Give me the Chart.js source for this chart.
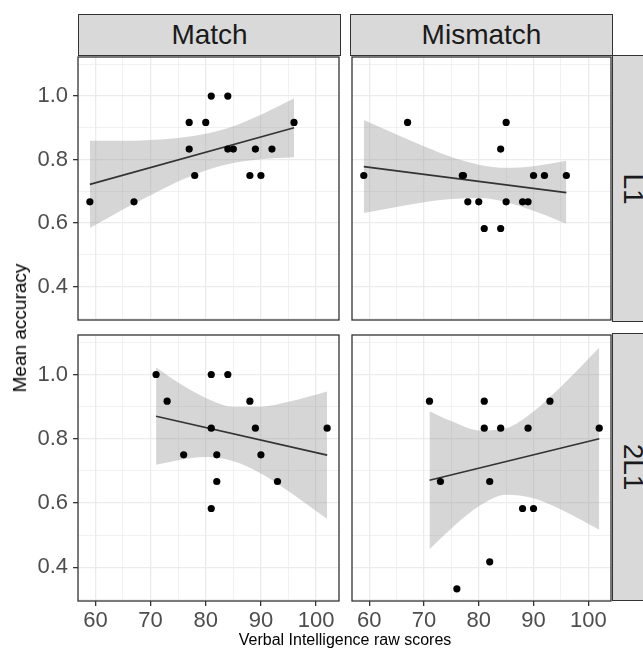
<!DOCTYPE html>
<html>
<head>
<meta charset="utf-8">
<script src="https://cdn.jsdelivr.net/npm/chart.js@4.4.0/dist/chart.umd.min.js"></script>
<style>
  body { margin: 0; width: 643px; height: 655px; overflow: hidden; background: #fff; position: relative;
         font-family: "Liberation Sans", Arial, sans-serif; }
  canvas { position: absolute; }
  .strip { position: absolute; background: #D9D9D9; border: 1.3px solid #333; box-sizing: border-box;
           display: flex; align-items: center; justify-content: center; color: #1A1A1A; font-size: 28px; }
  .strip span.rot { transform: rotate(90deg); white-space: nowrap; }
  .title { position: absolute; color: #000; white-space: nowrap; }
</style>
</head>
<body>
<canvas id="pTL" width="343" height="271" style="left:0;top:53px"></canvas>
<canvas id="pTR" width="267" height="271" style="left:348px;top:53px"></canvas>
<canvas id="pBL" width="343" height="324" style="left:0;top:331px"></canvas>
<canvas id="pBR" width="267" height="324" style="left:348px;top:331px"></canvas>

<div class="strip" style="left:78px;top:14px;width:263px;height:42px">Match</div>
<div class="strip" style="left:350px;top:14px;width:263px;height:42px">Mismatch</div>
<div class="strip" style="left:612px;top:55px;width:42px;height:267px"><span class="rot">L1</span></div>
<div class="strip" style="left:612px;top:333px;width:42px;height:268px"><span class="rot">2L1</span></div>

<div class="title" style="left:345px;top:631px;font-size:16px;transform:translateX(-50%)">Verbal Intelligence raw scores</div>
<div class="title" style="left:20px;top:328px;font-size:19px;transform:translate(-50%,-50%) rotate(-90deg)">Mean accuracy</div>

<script>
// ticks
const xTicks = [60, 70, 80, 90, 100];
const xGrid = [60, 65, 70, 75, 80, 85, 90, 95, 100];
const yTicks = [0.4, 0.6, 0.8, 1.0];
const yGrid = [0.3, 0.4, 0.5, 0.6, 0.7, 0.8, 0.9, 1.0, 1.1];

// Match / L1
const matchL1X = [59, 67, 77, 80, 81, 84, 77, 78, 84, 85, 89, 88, 90, 92, 96];
const matchL1Y = [0.667, 0.667, 0.917, 0.917, 1.0, 1.0, 0.833, 0.75, 0.833, 0.833, 0.833, 0.75, 0.75, 0.833, 0.917];
const matchL1FitX = [59, 96];
const matchL1FitY = [0.722, 0.900];
const matchL1BandX = [59, 65, 70, 75, 80, 85, 90, 96];
const matchL1BandHi = [0.859, 0.859, 0.862, 0.868, 0.881, 0.905, 0.941, 0.992];
const matchL1BandLo = [0.585, 0.643, 0.688, 0.731, 0.766, 0.789, 0.801, 0.807];

// Mismatch / L1
const mismatchL1X = [59, 67, 77, 77.2, 78, 80, 81, 84, 84, 85, 85, 88, 89, 90, 92, 96];
const mismatchL1Y = [0.75, 0.917, 0.75, 0.75, 0.667, 0.667, 0.583, 0.583, 0.833, 0.917, 0.667, 0.667, 0.667, 0.75, 0.75, 0.75];
const mismatchL1FitX = [59, 96];
const mismatchL1FitY = [0.778, 0.696];
const mismatchL1BandX = [59, 65, 70, 75, 80, 85, 90, 96];
const mismatchL1BandHi = [0.925, 0.879, 0.842, 0.808, 0.784, 0.774, 0.779, 0.796];
const mismatchL1BandLo = [0.632, 0.651, 0.666, 0.676, 0.679, 0.666, 0.639, 0.598];

// Match / 2L1
const match2L1X = [71, 73, 81, 84, 88, 81, 89, 102, 76, 82, 90, 82, 93, 81];
const match2L1Y = [1.0, 0.917, 1.0, 1.0, 0.917, 0.833, 0.833, 0.833, 0.75, 0.75, 0.75, 0.667, 0.667, 0.583];
const match2L1FitX = [71, 102];
const match2L1FitY = [0.870, 0.749];
const match2L1BandX = [71, 75, 80, 85, 90, 95, 102];
const match2L1BandHi = [1.022, 0.975, 0.927, 0.900, 0.900, 0.915, 0.947];
const match2L1BandLo = [0.719, 0.733, 0.743, 0.730, 0.692, 0.637, 0.551];

// Mismatch / 2L1
const mismatch2L1X = [71, 81, 93, 81, 84, 89, 102, 73, 82, 88, 90, 82, 76];
const mismatch2L1Y = [0.917, 0.917, 0.917, 0.833, 0.833, 0.833, 0.833, 0.667, 0.667, 0.583, 0.583, 0.417, 0.333];
const mismatch2L1FitX = [71, 102];
const mismatch2L1FitY = [0.671, 0.800];
const mismatch2L1BandX = [71, 75, 80, 85, 90, 95, 102];
const mismatch2L1BandHi = [0.886, 0.855, 0.826, 0.833, 0.885, 0.962, 1.084];
const mismatch2L1BandLo = [0.456, 0.521, 0.590, 0.626, 0.615, 0.580, 0.517];

const pairs = (xs, ys) => xs.map((x, i) => ({ x: x, y: ys[i] }));
const isIn = (arr, v) => arr.some(t => Math.abs(t - v) < 1e-9);

// marco del panel
const frame = {
    id: 'frame',
    afterDraw(chart) {
        const a = chart.chartArea;
        const ctx = chart.ctx;
        ctx.save();
        ctx.strokeStyle = '#333';
        ctx.lineWidth = 1.3;
        ctx.strokeRect(a.left, a.top, a.right - a.left, a.bottom - a.top);
        ctx.restore();
    }
};

// sin relleno extra por las etiquetas
function sinPadding(s) {
    s.paddingTop = 0;
    s.paddingBottom = 0;
    s.paddingLeft = 0;
    s.paddingRight = 0;
}

function crearPanel(id, px, py, fx, fy, bx, bhi, blo, showX, showY) {
    new Chart(document.getElementById(id), {
        type: 'scatter',
        data: {
            datasets: [
                { data: pairs(px, py), backgroundColor: '#000', borderWidth: 0, pointRadius: 3.6 },
                { data: pairs(fx, fy), showLine: true, borderColor: '#333', borderWidth: 1.6, pointRadius: 0, fill: false },
                { data: pairs(bx, bhi), showLine: true, borderWidth: 0, borderColor: 'transparent', pointRadius: 0,
                  cubicInterpolationMode: 'monotone', fill: '+1', backgroundColor: 'rgba(153,153,153,0.4)' },
                { data: pairs(bx, blo), showLine: true, borderWidth: 0, borderColor: 'transparent', pointRadius: 0,
                  cubicInterpolationMode: 'monotone', fill: false }
            ]
        },
        options: {
            responsive: false,
            animation: false,
            layout: { padding: { top: 2, right: 2, left: 0, bottom: 0 } },
            plugins: { legend: { display: false }, tooltip: { enabled: false } },
            scales: {
                x: {
                    type: 'linear',
                    min: 56.85,
                    max: 104.15,
                    afterBuildTicks: s => { s.ticks = xGrid.map(v => ({ value: v })); },
                    afterFit: s => { s.height = showX ? 54 : 2; sinPadding(s); },
                    border: { display: false },
                    grid: {
                        color: '#EBEBEB',
                        lineWidth: c => isIn(xTicks, c.tick.value) ? 1.3 : 0.7,
                        drawTicks: showX,
                        tickLength: 5,
                        tickColor: c => isIn(xTicks, c.tick.value) ? '#333' : 'rgba(0,0,0,0)',
                        tickWidth: 1.3
                    },
                    ticks: {
                        display: showX,
                        autoSkip: false,
                        maxRotation: 0,
                        padding: 2,
                        color: '#4D4D4D',
                        font: { family: '"Liberation Sans", Arial', size: 22 },
                        callback: v => isIn(xTicks, v) ? String(v) : ''
                    }
                },
                y: {
                    type: 'linear',
                    min: 0.295,
                    max: 1.123,
                    afterBuildTicks: s => { s.ticks = yGrid.map(v => ({ value: v })); },
                    afterFit: s => { s.width = showY ? 78 : 2; sinPadding(s); },
                    border: { display: false },
                    grid: {
                        color: '#EBEBEB',
                        lineWidth: c => isIn(yTicks, c.tick.value) ? 1.3 : 0.7,
                        drawTicks: showY,
                        tickLength: 5,
                        tickColor: c => isIn(yTicks, c.tick.value) ? '#333' : 'rgba(0,0,0,0)',
                        tickWidth: 1.3
                    },
                    ticks: {
                        display: showY,
                        autoSkip: false,
                        padding: 5,
                        color: '#4D4D4D',
                        font: { family: '"Liberation Sans", Arial', size: 22 },
                        callback: v => isIn(yTicks, v) ? v.toFixed(1) : ''
                    }
                }
            }
        },
        plugins: [frame]
    });
}

crearPanel('pTL', matchL1X, matchL1Y, matchL1FitX, matchL1FitY, matchL1BandX, matchL1BandHi, matchL1BandLo, false, true);
crearPanel('pTR', mismatchL1X, mismatchL1Y, mismatchL1FitX, mismatchL1FitY, mismatchL1BandX, mismatchL1BandHi, mismatchL1BandLo, false, false);
crearPanel('pBL', match2L1X, match2L1Y, match2L1FitX, match2L1FitY, match2L1BandX, match2L1BandHi, match2L1BandLo, true, true);
crearPanel('pBR', mismatch2L1X, mismatch2L1Y, mismatch2L1FitX, mismatch2L1FitY, mismatch2L1BandX, mismatch2L1BandHi, mismatch2L1BandLo, true, false);
</script>
</body>
</html>
